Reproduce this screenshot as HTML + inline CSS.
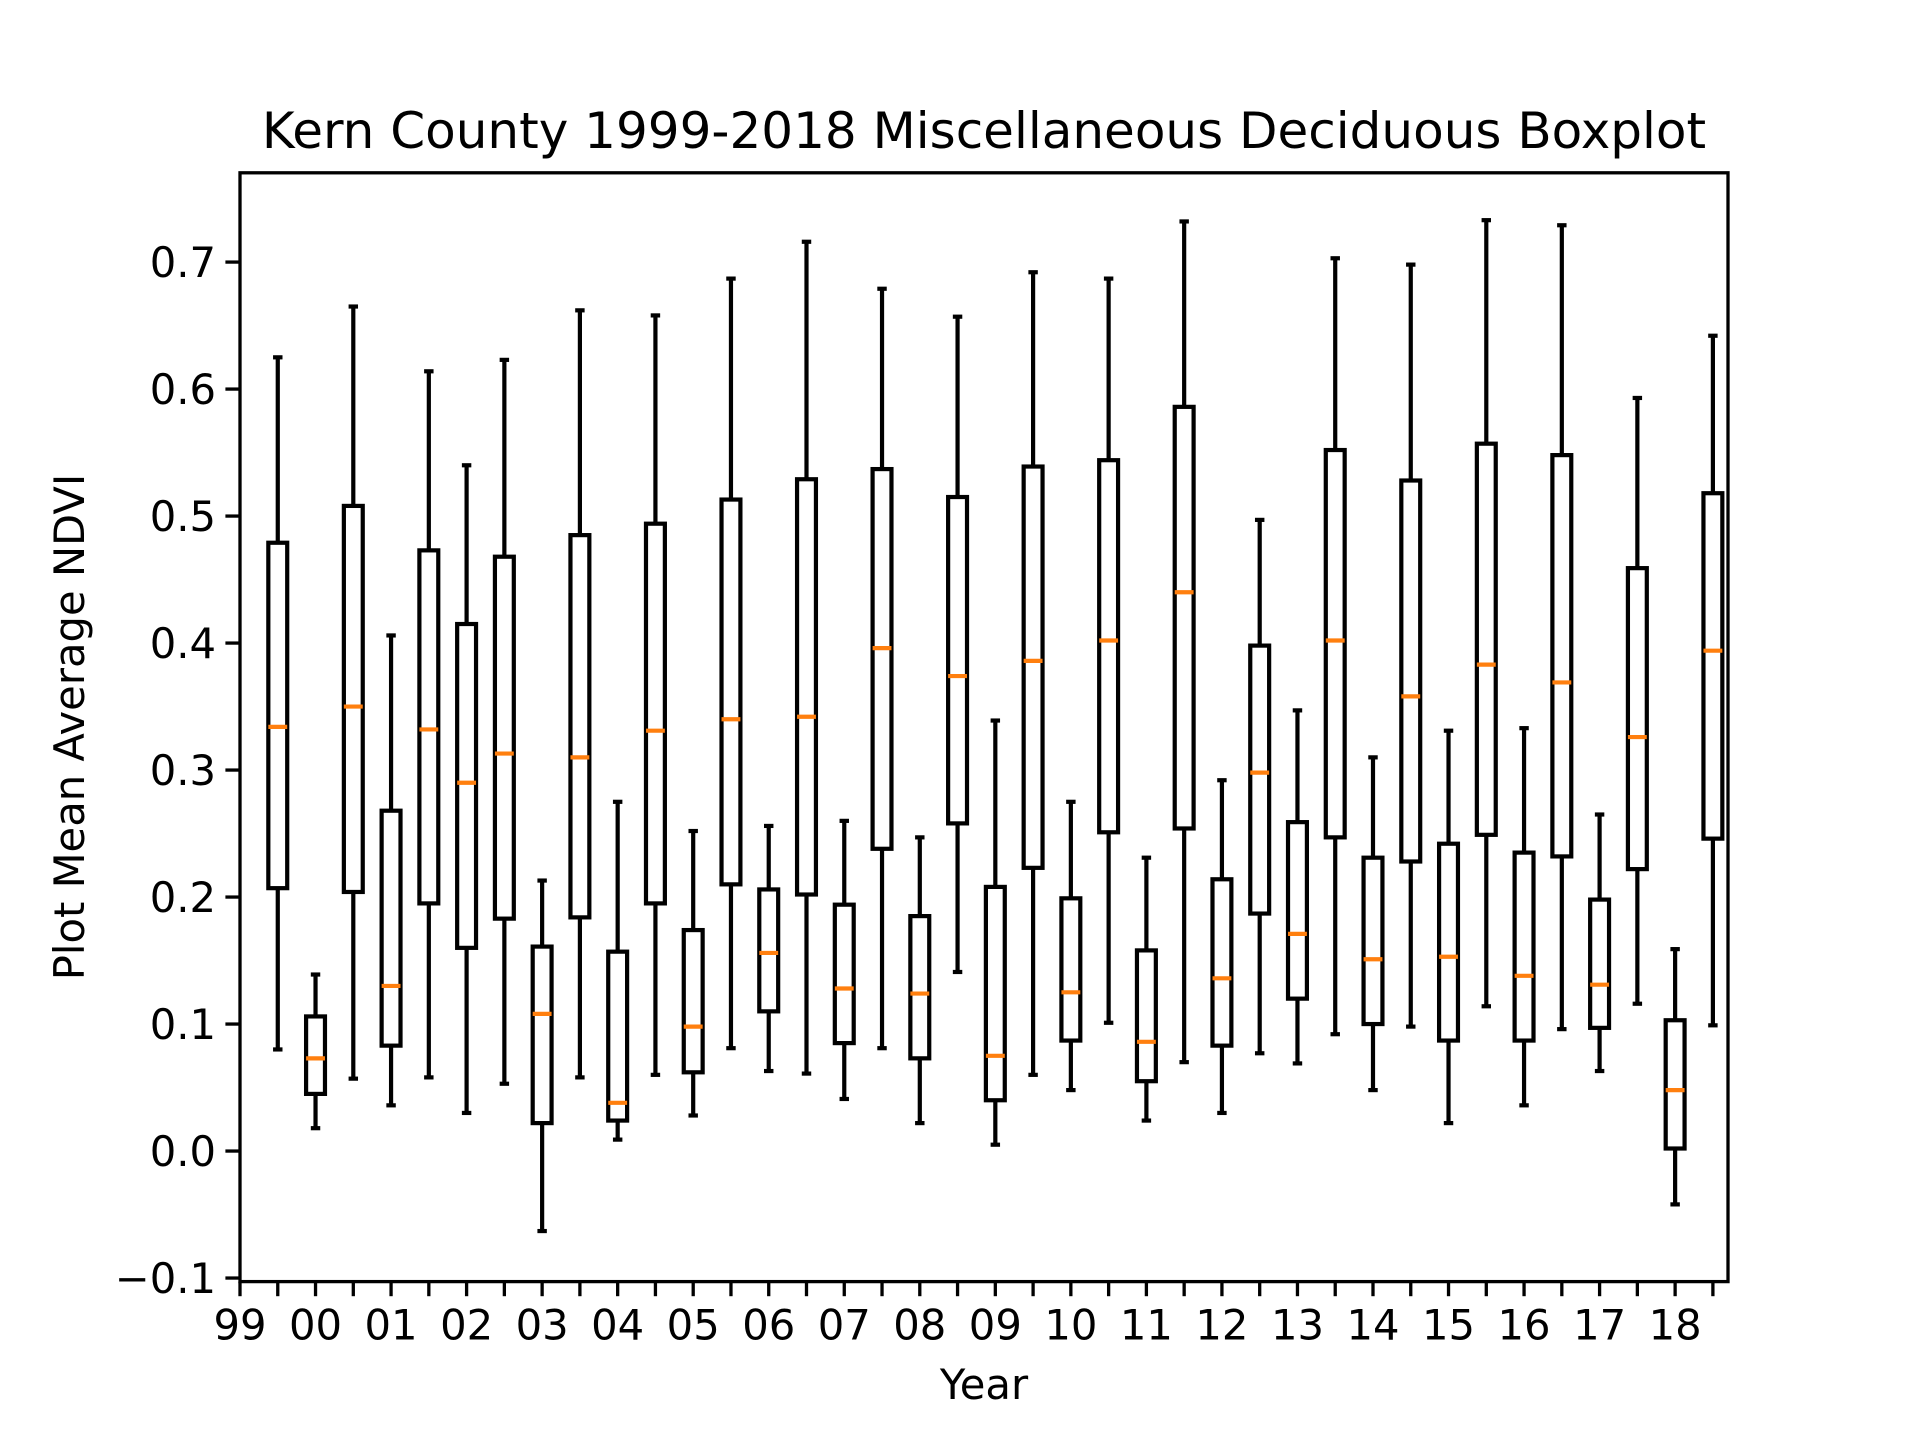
<!DOCTYPE html>
<html><head><meta charset="utf-8"><style>
body{margin:0;background:#fff}
svg text{font-family:"DejaVu Sans","Liberation Sans",sans-serif;fill:#000}
</style></head><body>
<svg id="chart" width="1920" height="1440" xmlns="http://www.w3.org/2000/svg">
<rect width="1920" height="1440" fill="#fff"/>
<text x="984" y="148" font-size="50" text-anchor="middle">Kern County 1999-2018 Miscellaneous Deciduous Boxplot</text>
<text x="984" y="1399" font-size="41.7" text-anchor="middle">Year</text>
<text x="0" y="0" font-size="41.7" text-anchor="middle" transform="translate(84,727) rotate(-90)">Plot Mean Average NDVI</text>
<g id="plot"></g>
</svg>
<script>
const whiskLow=[0.08,0.018,0.057,0.036,0.058,0.030,0.053,-0.063,0.058,0.009,0.060,0.028,0.081,0.063,0.061,0.041,0.081,0.022,0.141,0.005,0.060,0.048,0.101,0.024,0.070,0.030,0.077,0.069,0.092,0.048,0.098,0.022,0.114,0.036,0.096,0.063,0.116,-0.042,0.099];
const q1=[0.207,0.045,0.204,0.083,0.195,0.160,0.183,0.022,0.184,0.024,0.195,0.062,0.210,0.110,0.202,0.085,0.238,0.073,0.258,0.040,0.223,0.087,0.251,0.055,0.254,0.083,0.187,0.120,0.247,0.100,0.228,0.087,0.249,0.087,0.232,0.097,0.222,0.002,0.246];
const medians=[0.334,0.073,0.350,0.130,0.332,0.290,0.313,0.108,0.310,0.038,0.331,0.098,0.340,0.156,0.342,0.128,0.396,0.124,0.374,0.075,0.386,0.125,0.402,0.086,0.440,0.136,0.298,0.171,0.402,0.151,0.358,0.153,0.383,0.138,0.369,0.131,0.326,0.048,0.394];
const q3=[0.479,0.106,0.508,0.268,0.473,0.415,0.468,0.161,0.485,0.157,0.494,0.174,0.513,0.206,0.529,0.194,0.537,0.185,0.515,0.208,0.539,0.199,0.544,0.158,0.586,0.214,0.398,0.259,0.552,0.231,0.528,0.242,0.557,0.235,0.548,0.198,0.459,0.103,0.518];
const whiskHigh=[0.625,0.139,0.665,0.406,0.614,0.540,0.623,0.213,0.662,0.275,0.658,0.252,0.687,0.256,0.716,0.260,0.679,0.247,0.657,0.339,0.692,0.275,0.687,0.231,0.732,0.292,0.497,0.347,0.703,0.310,0.698,0.331,0.733,0.333,0.729,0.265,0.593,0.159,0.642];
const yTicks=[-0.1,0.0,0.1,0.2,0.3,0.4,0.5,0.6,0.7];
const yTickLabels=["\u22120.1","0.0","0.1","0.2","0.3","0.4","0.5","0.6","0.7"];
const xTickLabels=["99","00","01","02","03","04","05","06","07","08","09","10","11","12","13","14","15","16","17","18"];

const L=240,R=1728,T=172.8,B=1281.6;
const xMax=39.4;
const yMin=-0.1028,yMax=0.7703;
const xs=p=>L+p/xMax*(R-L);
const ys=v=>B-(v-yMin)/(yMax-yMin)*(B-T);
const NS="http://www.w3.org/2000/svg";
const g=document.getElementById('plot');
function mk(tag,attrs,parent){const e=document.createElementNS(NS,tag);for(const k in attrs)e.setAttribute(k,attrs[k]);(parent||g).appendChild(e);return e;}
const hw=0.25,cw=0.125;
for(let i=0;i<medians.length;i++){
  const p=i+1,x=xs(p);
  const grp=mk('g',{});
  
  
  const st={stroke:'#000','stroke-width':4.2,fill:'none'};
  mk('line',Object.assign({x1:x,x2:x,y1:ys(whiskLow[i]),y2:ys(q1[i])},st),grp);
  mk('line',Object.assign({x1:x,x2:x,y1:ys(q3[i]),y2:ys(whiskHigh[i])},st),grp);
  mk('line',Object.assign({x1:xs(p-cw),x2:xs(p+cw),y1:ys(whiskLow[i]),y2:ys(whiskLow[i])},st),grp);
  mk('line',Object.assign({x1:xs(p-cw),x2:xs(p+cw),y1:ys(whiskHigh[i]),y2:ys(whiskHigh[i])},st),grp);
  mk('rect',Object.assign({x:xs(p-hw),y:ys(q3[i]),width:xs(p+hw)-xs(p-hw),height:ys(q1[i])-ys(q3[i])},st),grp);
  mk('line',{x1:xs(p-hw),x2:xs(p+hw),y1:ys(medians[i]),y2:ys(medians[i]),stroke:'#ff7f0e','stroke-width':4.2},grp);
}
const frame=mk('rect',{x:L,y:T,width:R-L,height:B-T,fill:'none',stroke:'#000','stroke-width':3.3});


yTicks.forEach((v,i)=>{
  const y=ys(v);
  mk('line',{x1:L-14.6,x2:L,y1:y,y2:y,stroke:'#000','stroke-width':3.3});
  const t=mk('text',{x:L-24,y:y+15,'font-size':41.7,'text-anchor':'end'});
  t.textContent=yTickLabels[i];
  
  
});
for(let p=0;p<=39;p++){
  const x=xs(p);
  mk('line',{x1:x,x2:x,y1:B,y2:B+14.6,stroke:'#000','stroke-width':3.3});
}
xTickLabels.forEach((s,i)=>{
  const t=mk('text',{x:xs(i*2),y:B+58,'font-size':41.7,'text-anchor':'middle'});
  t.textContent=s;
  
  
});
</script>
</body></html>
